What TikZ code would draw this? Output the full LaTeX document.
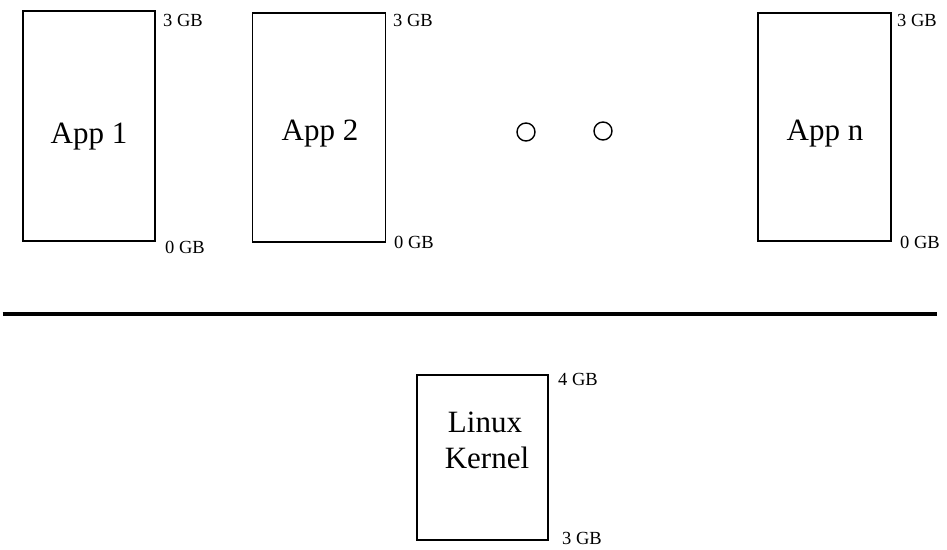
\documentclass[tikz,border=0pt]{standalone}
\usepackage{fontspec}
\setmainfont{Liberation Serif}
\begin{document}
\begin{tikzpicture}[x=1pt,y=-1pt,
  membox/.style={draw,line width=1.4pt,inner sep=0pt},
  bigtxt/.style={font=\fontsize{31}{31}\selectfont,inner sep=0pt,anchor=base,align=center},
  gb/.style={font=\fontsize{18.5}{18.5}\selectfont,inner sep=0pt,anchor=base west},
  dot/.style={draw,circle,line width=1.4pt,minimum size=18pt,inner sep=0pt}]
\useasboundingbox (0,0) rectangle (947,549);
% App boxes
\node[membox,minimum width=132pt,minimum height=230pt] (a1) at (89,126) {};
\node[membox,minimum width=133pt,minimum height=229pt] (a2) at (319,127.5) {};
\node[membox,minimum width=133pt,minimum height=228pt] (an) at (824.5,127) {};
\node[membox,minimum width=131pt,minimum height=165pt] (k) at (482.5,457.5) {};
% texts
\node[bigtxt] (t1) at (89,143) {App 1};
\node[bigtxt] (t2) at (320,140) {App 2};
\node[bigtxt] (tn) at (825,140) {App n};
\node[bigtxt] (tk1) at (485,432) {Linux};
\node[bigtxt] (tk2) at (487,468) {Kernel};
% labels
\node[gb] (a1top) at (163,26) {3 GB};
\node[gb] (a1bot) at (165,253) {0 GB};
\node[gb] (a2top) at (393,26) {3 GB};
\node[gb] (a2bot) at (394,248) {0 GB};
\node[gb] (antop) at (897,26) {3 GB};
\node[gb] (anbot) at (900,248) {0 GB};
\node[gb] (ktop) at (558,385) {4 GB};
\node[gb] (kbot) at (562,544) {3 GB};
% dots
\node[dot] (d1) at (526,132) {};
\node[dot] (d2) at (603,131) {};
% separator
\coordinate (sl) at (2.5,314);
\coordinate (sr) at (937,314);
\draw[line width=3.3pt] (sl) -- (sr);
\end{tikzpicture}
\end{document}
